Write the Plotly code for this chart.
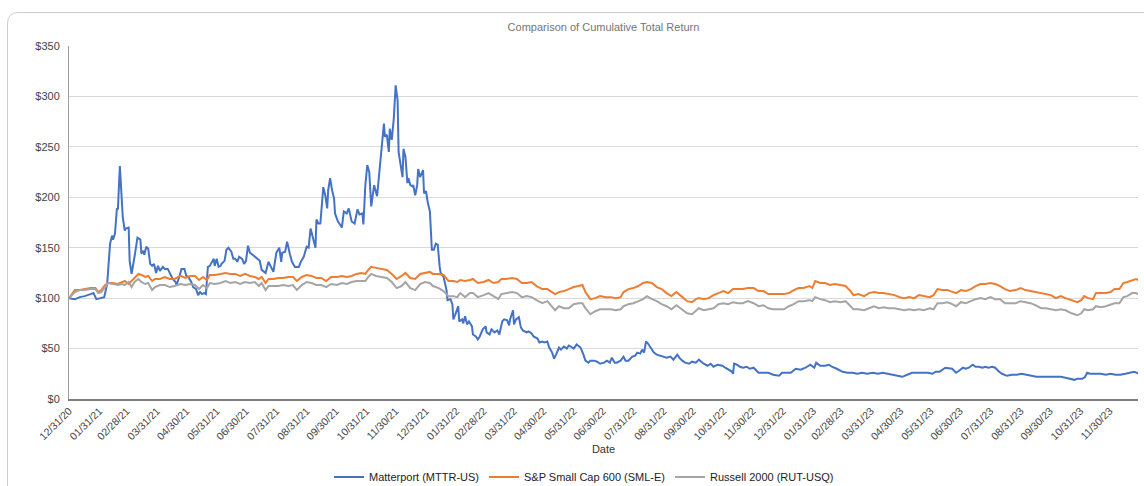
import plotly.graph_objects as go

# ---------------- data ----------------
mttr_dates = [
    "2020-12-31", "2021-01-06", "2021-01-11", "2021-01-16", "2021-01-22", "2021-01-25", "2021-01-28",
    "2021-02-01", "2021-02-05", "2021-02-08", "2021-02-09", "2021-02-11", "2021-02-13", "2021-02-14",
    "2021-02-16", "2021-02-18", "2021-02-19", "2021-02-21", "2021-02-22", "2021-02-24", "2021-02-26",
    "2021-02-27", "2021-03-02", "2021-03-03", "2021-03-05", "2021-03-07", "2021-03-08", "2021-03-11",
    "2021-03-14", "2021-03-15", "2021-03-17", "2021-03-18", "2021-03-20", "2021-03-22", "2021-03-24",
    "2021-03-26", "2021-03-28", "2021-03-30", "2021-04-01", "2021-04-03", "2021-04-06", "2021-04-08",
    "2021-04-11", "2021-04-13", "2021-04-16", "2021-04-19", "2021-04-20", "2021-04-23", "2021-04-25",
    "2021-04-28", "2021-04-30", "2021-05-02", "2021-05-05", "2021-05-07", "2021-05-10", "2021-05-12",
    "2021-05-14", "2021-05-16", "2021-05-18", "2021-05-20", "2021-05-22", "2021-05-24", "2021-05-26",
    "2021-05-28", "2021-05-29", "2021-05-31", "2021-06-02", "2021-06-04", "2021-06-05", "2021-06-08",
    "2021-06-10", "2021-06-12", "2021-06-15", "2021-06-17", "2021-06-19", "2021-06-21", "2021-06-23",
    "2021-06-26", "2021-06-28", "2021-06-30", "2021-07-02", "2021-07-04", "2021-07-08", "2021-07-11",
    "2021-07-14", "2021-07-16", "2021-07-20", "2021-07-23", "2021-07-25", "2021-07-28", "2021-07-31",
    "2021-08-03", "2021-08-05", "2021-08-06", "2021-08-09", "2021-08-11", "2021-08-14", "2021-08-16",
    "2021-08-19", "2021-08-23", "2021-08-25", "2021-08-28", "2021-08-31", "2021-09-02", "2021-09-04",
    "2021-09-06", "2021-09-09", "2021-09-10", "2021-09-12", "2021-09-14", "2021-09-15", "2021-09-17",
    "2021-09-19", "2021-09-21", "2021-09-22", "2021-09-24", "2021-09-26", "2021-09-28", "2021-09-29",
    "2021-10-02", "2021-10-04", "2021-10-06", "2021-10-08", "2021-10-11", "2021-10-13", "2021-10-15",
    "2021-10-16", "2021-10-19", "2021-10-21", "2021-10-22", "2021-10-24", "2021-10-27", "2021-10-28",
    "2021-10-30", "2021-11-01", "2021-11-03", "2021-11-05", "2021-11-07", "2021-11-08", "2021-11-11",
    "2021-11-12", "2021-11-14", "2021-11-16", "2021-11-18", "2021-11-19", "2021-11-21", "2021-11-23",
    "2021-11-24", "2021-11-26", "2021-11-28", "2021-11-30", "2021-12-02", "2021-12-03", "2021-12-05",
    "2021-12-07", "2021-12-08", "2021-12-10", "2021-12-12", "2021-12-13", "2021-12-15", "2021-12-17",
    "2021-12-18", "2021-12-20", "2021-12-22", "2021-12-23", "2021-12-25", "2021-12-28", "2021-12-29",
    "2021-12-31", "2022-01-02", "2022-01-04", "2022-01-06", "2022-01-08", "2022-01-10", "2022-01-12",
    "2022-01-14", "2022-01-15", "2022-01-18", "2022-01-21", "2022-01-22", "2022-01-25", "2022-01-27",
    "2022-01-28", "2022-01-30", "2022-02-02", "2022-02-03", "2022-02-06", "2022-02-07", "2022-02-09",
    "2022-02-11", "2022-02-13", "2022-02-16", "2022-02-17", "2022-02-20", "2022-02-22", "2022-02-24",
    "2022-02-27", "2022-03-02", "2022-03-03", "2022-03-06", "2022-03-08", "2022-03-11", "2022-03-14",
    "2022-03-16", "2022-03-19", "2022-03-21", "2022-03-24", "2022-03-26", "2022-03-27", "2022-03-30",
    "2022-03-31", "2022-04-02", "2022-04-05", "2022-04-07", "2022-04-09", "2022-04-13", "2022-04-15",
    "2022-04-18", "2022-04-20", "2022-04-24", "2022-04-26", "2022-04-29", "2022-05-01", "2022-05-04",
    "2022-05-06", "2022-05-09", "2022-05-11", "2022-05-13", "2022-05-16", "2022-05-18", "2022-05-21",
    "2022-05-24", "2022-05-26", "2022-05-28", "2022-05-31", "2022-06-03", "2022-06-05", "2022-06-07",
    "2022-06-10", "2022-06-12", "2022-06-15", "2022-06-17", "2022-06-21", "2022-06-24", "2022-06-27",
    "2022-07-01", "2022-07-04", "2022-07-07", "2022-07-09", "2022-07-12", "2022-07-14", "2022-07-18",
    "2022-07-21", "2022-07-23", "2022-07-26", "2022-07-30", "2022-08-02", "2022-08-04", "2022-08-07",
    "2022-08-09", "2022-08-11", "2022-08-13", "2022-08-15", "2022-08-18", "2022-08-21", "2022-08-24",
    "2022-08-28", "2022-08-31", "2022-09-03", "2022-09-07", "2022-09-10", "2022-09-14", "2022-09-16",
    "2022-09-19", "2022-09-22", "2022-09-26", "2022-09-29", "2022-10-03", "2022-10-06", "2022-10-11",
    "2022-10-15", "2022-10-18", "2022-10-21", "2022-10-25", "2022-10-30", "2022-11-02", "2022-11-05",
    "2022-11-09", "2022-11-10", "2022-11-11", "2022-11-14", "2022-11-17", "2022-11-20", "2022-11-24",
    "2022-11-27", "2022-12-01", "2022-12-06", "2022-12-11", "2022-12-16", "2022-12-21", "2022-12-27",
    "2022-12-30", "2023-01-04", "2023-01-08", "2023-01-13", "2023-01-18", "2023-01-23", "2023-01-28",
    "2023-02-01", "2023-02-03", "2023-02-07", "2023-02-12", "2023-02-16", "2023-02-19", "2023-02-24",
    "2023-03-02", "2023-03-07", "2023-03-12", "2023-03-17", "2023-03-22", "2023-03-27", "2023-04-02",
    "2023-04-07", "2023-04-12", "2023-04-17", "2023-04-22", "2023-04-27", "2023-05-02", "2023-05-07",
    "2023-05-12", "2023-05-17", "2023-05-23", "2023-05-28", "2023-06-02", "2023-06-05", "2023-06-09",
    "2023-06-12", "2023-06-15", "2023-06-22", "2023-06-26", "2023-06-29", "2023-07-03", "2023-07-06",
    "2023-07-09", "2023-07-13", "2023-07-16", "2023-07-19", "2023-07-23", "2023-07-26", "2023-07-29",
    "2023-08-02", "2023-08-05", "2023-08-09", "2023-08-12", "2023-08-17", "2023-08-22", "2023-08-27",
    "2023-09-01", "2023-09-06", "2023-09-11", "2023-09-16", "2023-09-20", "2023-09-25", "2023-10-01",
    "2023-10-06", "2023-10-11", "2023-10-16", "2023-10-22", "2023-10-25", "2023-10-28", "2023-11-02",
    "2023-11-05", "2023-11-07", "2023-11-10", "2023-11-16", "2023-11-21", "2023-11-26", "2023-12-01",
    "2023-12-06", "2023-12-11", "2023-12-16", "2023-12-21", "2023-12-25", "2023-12-28", "2023-12-29",
]
mttr = [
    100, 99, 101, 102, 104, 105, 99,
    100, 101, 114, 127, 154, 162, 158,
    164, 189, 188, 231, 214, 180, 167,
    169, 170, 137, 124, 134, 141, 160,
    158, 144, 147, 143, 151, 149, 134,
    132, 134, 125, 132, 127, 131, 129,
    129, 125, 119, 116, 113, 122, 129,
    129, 122, 121, 116, 111, 109, 103,
    106, 104, 105, 104, 131, 132, 136,
    139, 132, 139, 131, 132, 134, 137,
    148, 150, 146, 139, 139, 136, 141,
    139, 134, 137, 152, 145, 142, 139,
    137, 128, 125, 136, 132, 126, 145,
    150, 136, 145, 146, 156, 143, 136,
    131, 131, 136, 141, 151, 150, 169,
    161, 150, 178, 174, 174, 187, 210,
    202, 189, 207, 219, 207, 199, 184,
    176, 173, 170, 186, 184, 189, 181,
    176, 174, 184, 188, 183, 184, 173,
    212, 232, 225, 191, 209, 212, 201,
    212, 230, 257, 273, 260, 262, 245,
    268, 257, 277, 311, 296, 245, 230,
    220, 248, 240, 214, 219, 212, 211,
    212, 202, 212, 228, 220, 227, 204,
    206, 194, 186, 148, 148, 154, 153,
    131, 125, 121, 108, 98, 99, 94,
    79, 84, 92, 77, 79, 75, 82,
    74, 77, 72, 64, 62, 59, 62,
    69, 72, 66, 64, 69, 66, 68,
    64, 77, 79, 78, 73, 79, 88,
    74, 79, 81, 71, 68, 66, 67,
    65, 62, 60, 56, 57, 56, 57,
    51, 46, 40, 44, 51, 49, 52,
    50, 53, 52, 50, 54, 52, 51,
    44, 38, 36, 38, 38, 37, 35,
    36, 38, 36, 41, 36, 36, 38,
    42, 38, 38, 42, 43, 46, 45,
    49, 46, 57, 55, 51, 46, 44,
    43, 42, 41, 42, 39, 44, 41,
    38, 36, 35, 37, 36, 39, 35,
    33, 35, 32, 34, 33, 31, 29,
    27, 25, 35, 34, 32, 31, 32,
    30, 31, 26, 26, 26, 24, 23,
    26, 26, 26, 30, 29, 31, 34,
    31, 36, 33, 33, 34, 32, 30,
    27, 26, 26, 25, 26, 25, 26,
    25, 26, 25, 24, 23, 22, 24,
    26, 26, 26, 26, 25, 27, 27,
    29, 31, 30, 26, 28, 31, 30,
    31, 34, 32, 32, 31, 32, 31,
    32, 31, 27, 25, 23, 24, 24,
    25, 24, 23, 22, 22, 22, 22,
    22, 22, 21, 20, 19, 20, 20,
    22, 26, 25, 25, 25, 24, 25,
    24, 24, 25, 26, 27, 26, 25,
]

idx_dates = [
    "2020-12-31", "2021-01-06", "2021-01-11", "2021-01-16", "2021-01-22", "2021-01-27", "2021-01-30",
    "2021-02-02", "2021-02-06", "2021-02-09", "2021-02-14", "2021-02-19", "2021-02-23", "2021-02-26",
    "2021-03-02", "2021-03-05", "2021-03-08", "2021-03-12", "2021-03-15", "2021-03-19", "2021-03-22",
    "2021-03-26", "2021-03-29", "2021-04-03", "2021-04-08", "2021-04-13", "2021-04-18", "2021-04-24",
    "2021-04-29", "2021-05-04", "2021-05-09", "2021-05-13", "2021-05-17", "2021-05-21", "2021-05-24",
    "2021-05-29", "2021-06-04", "2021-06-09", "2021-06-14", "2021-06-19", "2021-06-24", "2021-06-29",
    "2021-07-04",
    "2021-07-09", "2021-07-13", "2021-07-16", "2021-07-20", "2021-07-23", "2021-07-28", "2021-08-02",
    "2021-08-07", "2021-08-12", "2021-08-17", "2021-08-21", "2021-08-26", "2021-08-31", "2021-09-05",
    "2021-09-10", "2021-09-15", "2021-09-20", "2021-09-25", "2021-10-01", "2021-10-06", "2021-10-11",
    "2021-10-16", "2021-10-21", "2021-10-26", "2021-10-30", "2021-11-02", "2021-11-05", "2021-11-10",
    "2021-11-16", "2021-11-21", "2021-11-26", "2021-12-01", "2021-12-06", "2021-12-10", "2021-12-15",
    "2021-12-20", "2021-12-25", "2021-12-30", "2022-01-04", "2022-01-07", "2022-01-13", "2022-01-18",
    "2022-01-23",
    "2022-01-28", "2022-02-01", "2022-02-04", "2022-02-09", "2022-02-14", "2022-02-17", "2022-02-22",
    "2022-02-28", "2022-03-05", "2022-03-10", "2022-03-15", "2022-03-18", "2022-03-23", "2022-03-29",
    "2022-04-03", "2022-04-08", "2022-04-13", "2022-04-18", "2022-04-23", "2022-04-29", "2022-05-04",
    "2022-05-09", "2022-05-12", "2022-05-16", "2022-05-21", "2022-05-26", "2022-05-31", "2022-06-05",
    "2022-06-09", "2022-06-12", "2022-06-17", "2022-06-22", "2022-06-27", "2022-07-03", "2022-07-08",
    "2022-07-13", "2022-07-18", "2022-07-21", "2022-07-26", "2022-07-31", "2022-08-05", "2022-08-10",
    "2022-08-14", "2022-08-19", "2022-08-24", "2022-08-29", "2022-09-03", "2022-09-08", "2022-09-13",
    "2022-09-18", "2022-09-24", "2022-09-29", "2022-10-03", "2022-10-06",
    "2022-10-11", "2022-10-16", "2022-10-21", "2022-10-26", "2022-10-31", "2022-11-05", "2022-11-10",
    "2022-11-15", "2022-11-20", "2022-11-25", "2022-12-01", "2022-12-06", "2022-12-11", "2022-12-16",
    "2022-12-21", "2022-12-27", "2023-01-01", "2023-01-06", "2023-01-11", "2023-01-16", "2023-01-21",
    "2023-01-27", "2023-01-30", "2023-02-02", "2023-02-07", "2023-02-12", "2023-02-17", "2023-02-22",
    "2023-02-28", "2023-03-05", "2023-03-10", "2023-03-13", "2023-03-18", "2023-03-24", "2023-03-29",
    "2023-04-03", "2023-04-08", "2023-04-13", "2023-04-18", "2023-04-24", "2023-04-29", "2023-05-04",
    "2023-05-09", "2023-05-14", "2023-05-19", "2023-05-24", "2023-05-30", "2023-06-03", "2023-06-07",
    "2023-06-12", "2023-06-17",
    "2023-06-20", "2023-06-26", "2023-07-01", "2023-07-06", "2023-07-11", "2023-07-16", "2023-07-21",
    "2023-07-26", "2023-07-31", "2023-08-05", "2023-08-10", "2023-08-15", "2023-08-20", "2023-08-26",
    "2023-08-31", "2023-09-05", "2023-09-10", "2023-09-15", "2023-09-21", "2023-09-26", "2023-10-01",
    "2023-10-06", "2023-10-11", "2023-10-16", "2023-10-22", "2023-10-25", "2023-10-28", "2023-11-01",
    "2023-11-04", "2023-11-08", "2023-11-13", "2023-11-16", "2023-11-21", "2023-11-26", "2023-12-01",
    "2023-12-05", "2023-12-10", "2023-12-14", "2023-12-18", "2023-12-23", "2023-12-27", "2023-12-29",
]
sml = [
    100, 108, 108, 109, 110, 110, 106, 108, 113, 115, 115, 114, 116, 117, 114, 117, 119, 124, 123, 121,
    122, 117, 119, 119, 121, 119, 119, 122, 120, 122, 122, 118, 121, 118, 123, 123, 124, 125, 124, 124,
    122, 124, 122,
    121, 119, 121, 115, 119, 119, 120, 120, 121, 121, 117, 121, 123, 122, 120, 120, 117, 121, 121, 122,
    121, 122, 124, 125, 124, 128, 131, 130, 129, 128, 124, 119, 122, 125, 120, 119, 124, 125, 126, 124,
    124, 123, 117,
    117, 116, 118, 117, 118, 119, 115, 116, 118, 115, 116, 119, 119, 120, 119, 115, 115, 116, 112, 109,
    109, 106, 104, 106, 107, 109, 111, 112, 113, 106, 99, 100, 102, 101, 101, 100, 101, 106, 109, 110,
    112, 115, 116, 115, 111, 109, 105, 102, 106, 102, 97, 96, 99, 100,
    99, 100, 103, 105, 107, 105, 109, 109, 109, 110, 110, 107, 107, 104, 104, 104, 104, 105, 108, 110,
    110, 112, 110, 117, 115, 115, 113, 114, 113, 112, 107, 103, 104, 102, 105, 106, 105, 105, 104, 103,
    101, 100, 101, 100, 103, 102, 101, 103, 109, 108, 108,
    107, 105, 108, 107, 109, 112, 114, 114, 115, 114, 112, 109, 107, 108, 110, 108, 107, 106, 105, 104,
    103, 100, 102, 100, 98, 97, 96, 98, 102, 100, 99, 105, 105, 105, 106, 109, 109, 115, 116, 118,
    119, 118,
]
rut = [
    100, 106, 108, 108, 109, 109, 105, 106, 111, 115, 114, 113, 114, 113, 116, 111, 116, 119, 116, 114,
    115, 108, 111, 113, 113, 111, 112, 114, 113, 114, 113, 109, 113, 110, 115, 114, 115, 117, 115, 116,
    114, 116, 115,
    116, 112, 115, 108, 112, 112, 112, 113, 112, 113, 108, 113, 116, 115, 113, 113, 111, 114, 113, 115,
    114, 116, 117, 117, 117, 121, 124, 122, 121, 120, 116, 110, 112, 116, 110, 108, 114, 116, 115, 112,
    110, 107, 102,
    102, 101, 105, 101, 105, 105, 101, 103, 105, 102, 99, 104, 105, 106, 105, 101, 102, 101, 98, 95,
    97, 92, 88, 92, 90, 90, 94, 95, 95, 90, 84, 87, 89, 89, 89, 88, 89, 92, 94, 95,
    97, 99, 102, 99, 97, 94, 92, 89, 93, 89, 85, 84, 87, 90,
    88, 89, 90, 94, 95, 94, 96, 95, 95, 97, 95, 92, 93, 90, 89, 89, 89, 92, 94, 97,
    97, 98, 97, 101, 99, 98, 96, 97, 96, 97, 92, 89, 89, 88, 90, 92, 90, 91, 90, 90,
    89, 88, 89, 88, 89, 88, 90, 89, 95, 95, 96,
    95, 92, 96, 95, 97, 99, 100, 99, 101, 99, 99, 95, 95, 95, 97, 96, 95, 93, 90, 90,
    89, 88, 89, 88, 85, 84, 83, 85, 89, 88, 89, 92, 91, 92, 94, 95, 95, 101, 102, 105,
    105, 104,
]

tick_dates = [
    "2020-12-31", "2021-01-31", "2021-02-28", "2021-03-31", "2021-04-30", "2021-05-31", "2021-06-30",
    "2021-07-31", "2021-08-31", "2021-09-30", "2021-10-31", "2021-11-30", "2021-12-31",
    "2022-01-31", "2022-02-28", "2022-03-31", "2022-04-30", "2022-05-31", "2022-06-30",
    "2022-07-31", "2022-08-31", "2022-09-30", "2022-10-31", "2022-11-30", "2022-12-31",
    "2023-01-31", "2023-02-28", "2023-03-31", "2023-04-30", "2023-05-31", "2023-06-30",
    "2023-07-31", "2023-08-31", "2023-09-30", "2023-10-31", "2023-11-30",
]
series_names = ["Matterport (MTTR-US)", "S&P Small Cap 600 (SML-E)", "Russell 2000 (RUT-USQ)"]
series_colors = ["#4472C4", "#ED7D31", "#A5A5A5"]

# ---------------- layout geometry ----------------
W, H = 1144, 486
ML, MR, MT, MB = 69, 6, 46, 87
PW, PH = W - ML - MR, H - MT - MB


def px(x):
    return (x - ML) / PW


def py(y):
    return (H - MB - y) / PH


FONT = "Liberation Sans, Arial, sans-serif"

fig = go.Figure()
fig.add_trace(go.Scatter(x=mttr_dates, y=mttr, mode="lines", name=series_names[0],
                         line=dict(color=series_colors[0], width=2)))
fig.add_trace(go.Scatter(x=idx_dates, y=sml, mode="lines", name=series_names[1],
                         line=dict(color=series_colors[1], width=2)))
fig.add_trace(go.Scatter(x=idx_dates, y=rut, mode="lines", name=series_names[2],
                         line=dict(color=series_colors[2], width=2)))

# rounded card border
cl, ct, cr, cb, rad = 7.5, 12.5, 1175, 520, 11
card_path = (f"M {px(cl)},{py(cb)} L {px(cl)},{py(ct + rad)} "
             f"Q {px(cl)},{py(ct)} {px(cl + rad)},{py(ct)} L {px(cr)},{py(ct)}")

fig.update_layout(
    width=W, height=H,
    margin=dict(l=ML, r=MR, t=MT, b=MB, autoexpand=False),
    paper_bgcolor="white", plot_bgcolor="white",
    font=dict(family=FONT, size=11, color="#444444"),
    title=dict(text="Comparison of Cumulative Total Return", x=0.5, xref="paper", xanchor="center",
               y=1 - 27 / H, yref="container", yanchor="middle",
               font=dict(family=FONT, size=11, color="#757575")),
    showlegend=True,
    legend=dict(orientation="h", x=px(584), xanchor="center", y=py(477), yanchor="middle",
                font=dict(family=FONT, size=11, color="#222222"), bgcolor="rgba(0,0,0,0)",
                itemwidth=30, traceorder="normal"),
    shapes=[dict(type="path", path=card_path, xref="paper", yref="paper",
                 line=dict(color="#cccccc", width=1), layer="below")],
    hovermode=False,
)
fig.update_xaxes(
    type="date", range=["2020-12-31", "2023-12-29"], automargin=False,
    tickmode="array", tickvals=tick_dates, tickformat="%m/%d/%y", tickangle=-45,
    tickfont=dict(family=FONT, size=10.5, color="#444444"),
    showgrid=False, zeroline=False, showline=True, linecolor="#7f7f7f", linewidth=1.5,
    ticks="", title=dict(text="Date", font=dict(family=FONT, size=11, color="#333333"), standoff=4),
)
fig.update_yaxes(
    range=[0, 350], tickmode="linear", tick0=0, dtick=50, tickprefix="$", automargin=False,
    tickfont=dict(family=FONT, size=11, color="#444444"),
    showgrid=True, gridcolor="#d9d9d9", gridwidth=1, zeroline=False,
    showline=True, linecolor="#9e9e9e", linewidth=1, ticks="", ticklabelstandoff=6,
)

fig.write_html("out.html", config={"displayModeBar": False},
               post_script="document.body.style.margin='0';")
